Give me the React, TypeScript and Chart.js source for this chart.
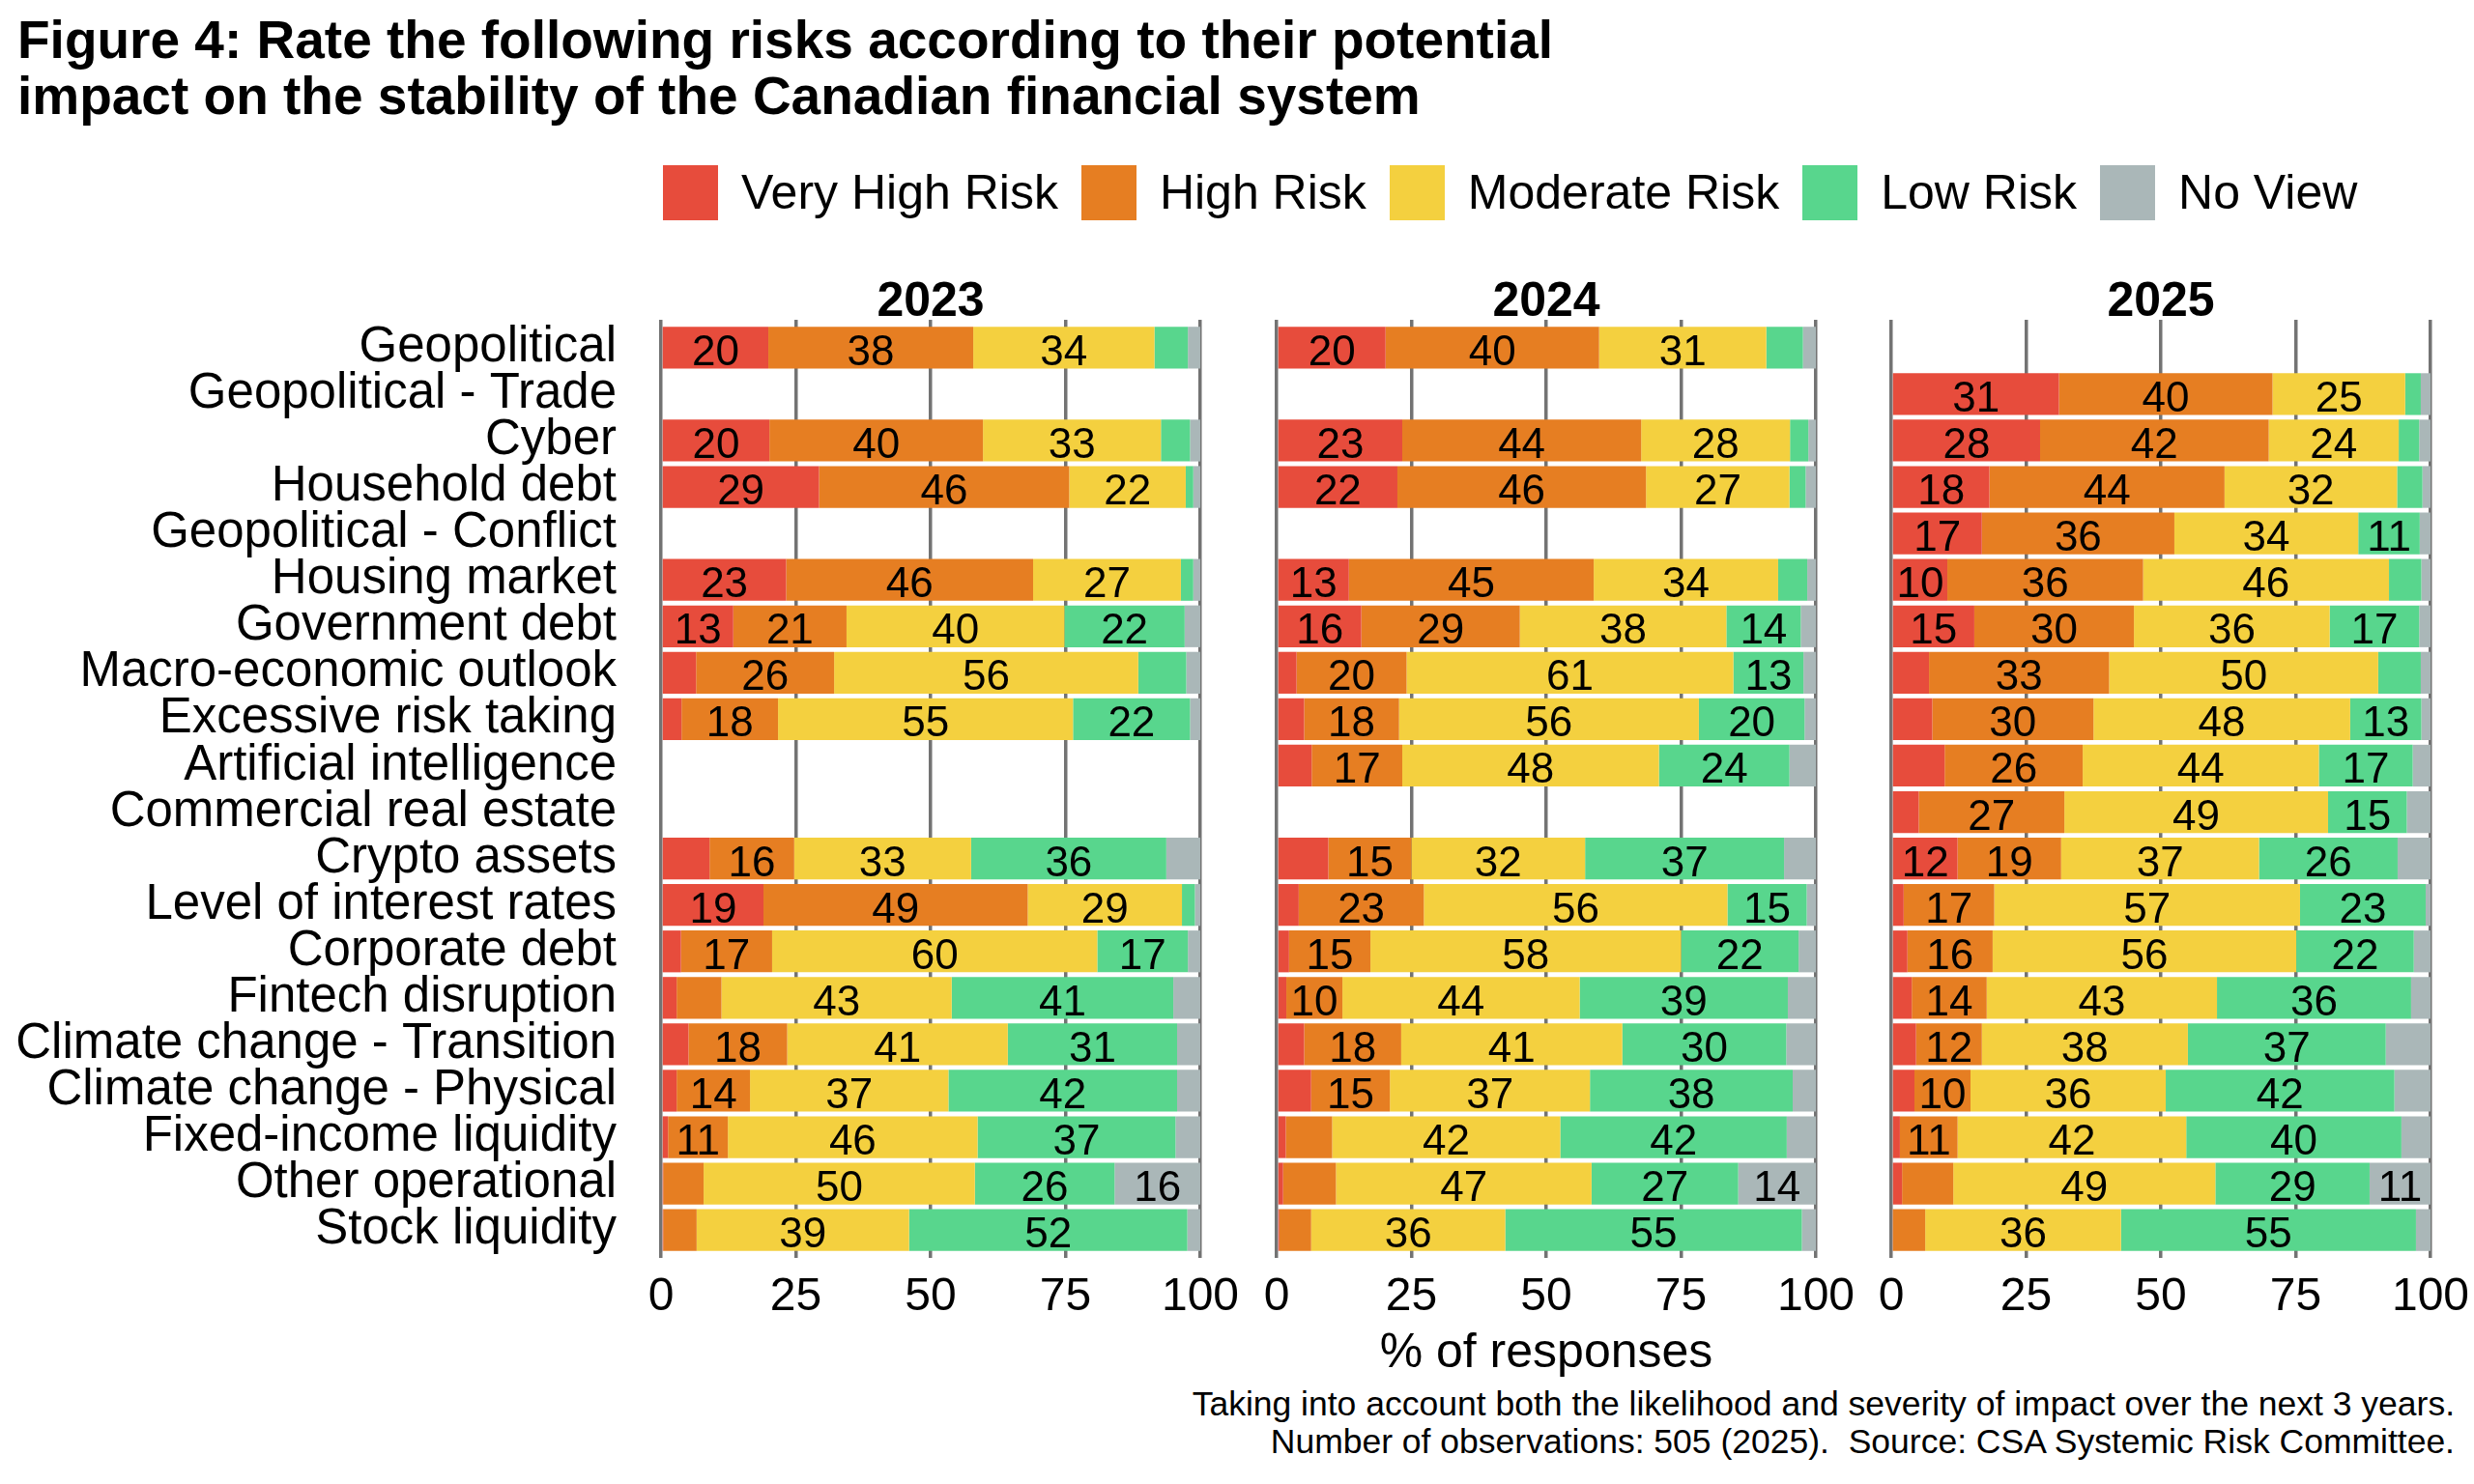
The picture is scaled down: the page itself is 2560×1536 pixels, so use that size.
import React, { useEffect, useRef } from 'react';
import { Chart, registerables } from 'chart.js';

Chart.register(...registerables);

const FONT = '"Liberation Sans", Arial, Helvetica, sans-serif';

const categories = [
  'Geopolitical',
  'Geopolitical - Trade',
  'Cyber',
  'Household debt',
  'Geopolitical - Conflict',
  'Housing market',
  'Government debt',
  'Macro-economic outlook',
  'Excessive risk taking',
  'Artificial intelligence',
  'Commercial real estate',
  'Crypto assets',
  'Level of interest rates',
  'Corporate debt',
  'Fintech disruption',
  'Climate change - Transition',
  'Climate change - Physical',
  'Fixed-income liquidity',
  'Other operational',
  'Stock liquidity',
];

const years = ['2023', '2024', '2025'];
const seriesNames = ['Very High Risk', 'High Risk', 'Moderate Risk', 'Low Risk', 'No View'];
const seriesColors = ['#E74C3C', '#E67E22', '#F4D03F', '#58D68D', '#AAB7B8'];
const xTicks = [0, 25, 50, 75, 100];

const N = null;

// 2023
const veryHigh2023 = [19.9, N, 20.1, 29.3, N, 23.2, 13.4, 6.5, 3.8, N, N, 9.0, 19.0, 3.7, 2.9, 5.1, 2.9, 1.3, 0.4, 0.4];
const high2023 = [38.0, N, 39.6, 46.4, N, 45.8, 21.0, 25.6, 17.9, N, N, 15.7, 49.0, 16.9, 8.3, 18.3, 13.6, 11.1, 7.5, 6.2];
const moderate2023 = [33.6, N, 33.0, 21.6, N, 27.4, 40.4, 56.4, 54.7, N, N, 32.8, 28.6, 60.3, 42.7, 40.9, 36.8, 46.3, 50.3, 39.4];
const low2023 = [6.2, N, 5.4, 1.4, N, 2.3, 22.3, 8.9, 21.7, N, N, 36.2, 2.4, 16.8, 41.1, 31.4, 42.4, 36.7, 25.9, 51.6];
const noView2023 = [2.3, N, 1.9, 1.3, N, 1.3, 2.9, 2.6, 1.9, N, N, 6.3, 1.0, 2.3, 5.0, 4.3, 4.3, 4.6, 15.9, 2.4];

// 2024
const veryHigh2024 = [20.2, N, 23.3, 22.4, N, 13.4, 15.7, 3.7, 5.1, 6.5, N, 9.6, 4.1, 2.3, 1.8, 5.1, 6.4, 1.7, 1.2, 0.5];
const high2024 = [39.6, N, 44.3, 46.1, N, 45.4, 29.4, 20.4, 17.6, 16.8, N, 15.4, 23.2, 15.1, 10.4, 18.0, 14.6, 8.6, 9.8, 5.9];
const moderate2024 = [31.0, N, 27.6, 26.6, N, 34.2, 38.3, 60.6, 55.6, 47.6, N, 32.2, 56.3, 57.6, 44.0, 41.0, 37.1, 42.3, 47.4, 36.0];
const low2024 = [6.8, N, 3.4, 3.0, N, 5.4, 13.8, 13.0, 19.6, 24.2, N, 36.9, 14.7, 21.8, 38.6, 30.4, 37.6, 42.0, 27.2, 55.0];
const noView2024 = [2.4, N, 1.4, 1.9, N, 1.6, 2.8, 2.3, 2.1, 4.9, N, 5.9, 1.7, 3.2, 5.2, 5.5, 4.3, 5.4, 14.4, 2.6];

// 2025
const veryHigh2025 = [N, 31.1, 27.6, 18.2, 16.8, 10.4, 15.4, 7.0, 7.6, 9.9, 5.1, 12.3, 2.3, 3.0, 3.8, 4.6, 4.3, 1.6, 2.0, 0.3];
const high2025 = [N, 39.6, 42.4, 43.6, 35.7, 36.3, 29.6, 33.4, 29.9, 25.6, 27.0, 19.2, 16.8, 15.8, 13.9, 12.2, 10.4, 10.7, 9.5, 6.0];
const moderate2025 = [N, 24.6, 24.1, 32.0, 34.1, 45.6, 36.3, 49.9, 47.6, 43.8, 48.9, 36.7, 56.7, 56.3, 42.7, 38.2, 36.2, 42.4, 48.6, 36.3];
const low2025 = [N, 2.9, 3.8, 4.7, 11.4, 6.0, 16.6, 7.9, 13.2, 17.4, 14.6, 25.7, 23.3, 21.8, 36.0, 36.7, 42.4, 39.9, 28.6, 54.7];
const noView2025 = [N, 1.8, 2.1, 1.5, 2.0, 1.7, 2.1, 1.8, 1.7, 3.3, 4.4, 6.1, 0.9, 3.1, 3.6, 8.3, 6.7, 5.4, 11.3, 2.7];

const yearSeries = [
  [veryHigh2023, high2023, moderate2023, low2023, noView2023],
  [veryHigh2024, high2024, moderate2024, low2024, noView2024],
  [veryHigh2025, high2025, moderate2025, low2025, noView2025],
];

const segmentLabels = {
  id: 'segmentLabels',
  afterDatasetsDraw(chart: any) {
    const ctx = chart.ctx;
    ctx.save();
    ctx.font = `44px ${FONT}`;
    ctx.fillStyle = '#000';
    ctx.textAlign = 'center';
    ctx.textBaseline = 'alphabetic';
    chart.data.datasets.forEach((ds: any, di: number) => {
      const meta = chart.getDatasetMeta(di);
      meta.data.forEach((el: any, j: number) => {
        const v = ds.data[j].x;
        if (v >= 10) {
          const p = el.getProps(['x', 'base', 'y'], true);
          ctx.fillText(String(Math.round(v)), (p.x + p.base) / 2, p.y + 18);
        }
      });
    });
    ctx.restore();
  },
};

const CANVAS_TOP = 251;
const CANVAS_H = 1141;
const PAD_TOP = 80;
const X_AXIS_H = 90;

function Panel({ yearIdx, left, width, padL, padR, showY }: any) {
  const ref = useRef<HTMLCanvasElement>(null);
  useEffect(() => {
    const series = yearSeries[yearIdx];
    const chart = new Chart(ref.current as HTMLCanvasElement, {
      type: 'bar',
      data: {
        datasets: seriesNames.map((name, s) => ({
          label: name,
          data: series[s]
            .map((v, i) => (v == null ? null : { x: v, y: i }))
            .filter((d) => d !== null) as any,
          backgroundColor: seriesColors[s],
          borderWidth: 0,
          barPercentage: 0.9,
          categoryPercentage: 1,
        })),
      },
      options: {
        indexAxis: 'y',
        responsive: false,
        animation: false,
        devicePixelRatio: 1,
        layout: { padding: { top: PAD_TOP, bottom: 0, left: padL, right: padR } },
        plugins: {
          legend: { display: false },
          tooltip: { enabled: false },
          title: { display: false },
        },
        scales: {
          x: {
            type: 'linear',
            position: 'bottom',
            min: 0,
            max: 100,
            stacked: true,
            afterBuildTicks: (s: any) => {
              s.ticks = xTicks.map((v) => ({ value: v }));
            },
            afterFit: (s: any) => {
              s.height = X_AXIS_H;
            },
            ticks: {
              font: { size: 48, family: FONT },
              color: '#000',
              padding: 12,
              autoSkip: false,
              maxRotation: 0,
            },
            grid: { color: '#737373', lineWidth: 3.5, drawTicks: false },
            border: { display: false },
          },
          y: {
            type: 'linear',
            min: -0.6,
            max: 19.6,
            offset: false,
            reverse: true,
            stacked: true,
            display: showY,
            afterBuildTicks: (s: any) => {
              s.ticks = categories.map((_, i) => ({ value: i }));
            },
            afterFit: (s: any) => {
              s.width = showY ? 684 - padL : 0;
            },
            ticks: {
              font: { size: 51, family: FONT },
              color: '#000',
              padding: 38,
              autoSkip: false,
              callback: (v: any) => categories[v] ?? '',
            },
            grid: { display: false, offset: false },
            border: { display: false },
          },
        },
      } as any,
      plugins: [segmentLabels],
    });
    return () => chart.destroy();
  }, []);
  return (
    <canvas
      ref={ref}
      width={width}
      height={CANVAS_H}
      style={{ position: 'absolute', left, top: CANVAS_TOP }}
    />
  );
}

const panelCenters = [963, 1600, 2236];

export default function App() {
  return (
    <div
      style={{
        position: 'absolute',
        left: 0,
        top: 0,
        width: 2560,
        height: 1536,
        background: '#fff',
        overflow: 'hidden',
        fontFamily: FONT,
        color: '#000',
      }}
    >
      <div
        style={{
          position: 'absolute',
          left: 18,
          top: 12,
          fontSize: 55,
          fontWeight: 'bold',
          lineHeight: '58px',
          whiteSpace: 'nowrap',
        }}
      >
        Figure 4: Rate the following risks according to their potential
        <br />
        impact on the stability of the Canadian financial system
      </div>

      <div
        style={{
          position: 'absolute',
          left: 686,
          top: 171,
          height: 57,
          display: 'flex',
          alignItems: 'center',
          whiteSpace: 'nowrap',
        }}
      >
        {seriesNames.map((name, i) => (
          <React.Fragment key={name}>
            <div style={{ width: 57, height: 57, background: seriesColors[i], marginRight: 24 }} />
            <span style={{ fontSize: 50, lineHeight: '57px', marginRight: 24 }}>{name}</span>
          </React.Fragment>
        ))}
      </div>

      {years.map((y, i) => (
        <div
          key={y}
          style={{
            position: 'absolute',
            left: panelCenters[i] - 150,
            width: 300,
            top: 285,
            textAlign: 'center',
            fontSize: 50,
            fontWeight: 'bold',
            lineHeight: '50px',
          }}
        >
          {y}
        </div>
      ))}

      <Panel yearIdx={0} left={0} width={1298} padL={0} padR={56} showY={true} />
      <Panel yearIdx={1} left={1265} width={670} padL={56} padR={56} showY={false} />
      <Panel yearIdx={2} left={1901} width={670} padL={56} padR={56} showY={false} />

      <div
        style={{
          position: 'absolute',
          left: 1300,
          width: 600,
          top: 1373,
          textAlign: 'center',
          fontSize: 50,
          lineHeight: '50px',
        }}
      >
        % of responses
      </div>

      <div
        style={{
          position: 'absolute',
          right: 20,
          top: 1434,
          textAlign: 'right',
          fontSize: 35.5,
          lineHeight: '39px',
          whiteSpace: 'nowrap',
        }}
      >
        Taking into account both the likelihood and severity of impact over the next 3 years.
        <br />
        Number of observations: 505 (2025).&nbsp; Source: CSA Systemic Risk Committee.
      </div>
    </div>
  );
}
